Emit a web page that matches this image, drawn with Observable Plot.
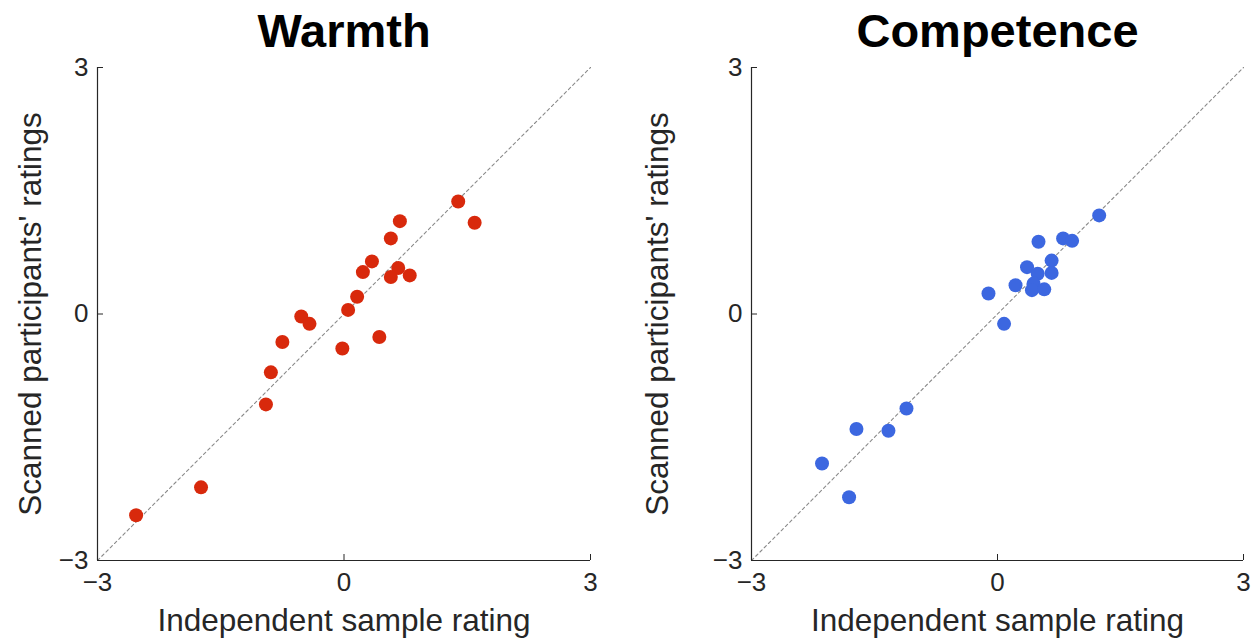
<!DOCTYPE html>
<html>
<head>
<meta charset="utf-8">
<script src="https://cdn.jsdelivr.net/npm/d3@7"></script>
<script src="https://cdn.jsdelivr.net/npm/@observablehq/plot@0.6"></script>
<style>
  html, body { margin: 0; padding: 0; background: #fff; }
  #wrap { position: relative; width: 1255px; height: 641px; }
  #wrap > svg { position: absolute; top: 0; }
</style>
</head>
<body>
<div id="wrap"></div>
<script>
// ---- Data ----
const titles = ["Warmth", "Competence"];
const xLabel = "Independent sample rating";
const yLabel = "Scanned participants' ratings";
const domain = [-3, 3];
const tickValues = [-3, 0, 3];

const warmthX = [1.39, 0.68, 1.59, 0.57, 0.34, 0.23, 0.66, 0.57, 0.80, 0.16, 0.05, -0.52, -0.42, -0.75, -0.02, 0.43, -0.89, -0.95, -1.74, -2.53];
const warmthY = [1.37, 1.13, 1.11, 0.92, 0.64, 0.51, 0.56, 0.45, 0.47, 0.21, 0.05, -0.03, -0.12, -0.34, -0.42, -0.28, -0.71, -1.10, -2.11, -2.45];

const competenceX = [1.24, 0.50, 0.80, 0.91, 0.36, 0.66, 0.66, 0.49, 0.22, 0.44, 0.42, 0.57, -0.11, 0.08, -1.11, -1.72, -1.33, -2.14, -1.81];
const competenceY = [1.20, 0.88, 0.92, 0.89, 0.57, 0.65, 0.50, 0.49, 0.35, 0.37, 0.29, 0.30, 0.25, -0.12, -1.15, -1.40, -1.42, -1.82, -2.23];

const colors = ["#d8290c", "#3c67e0"];

// ---- Drawing ----
const font = "'Liberation Sans', Arial, Helvetica, sans-serif";
const fmt = d => d < 0 ? "\u2212" + Math.abs(d) : String(d);

function panel(title, xs, ys, color, left, width, marginLeft, marginRight) {
  const pts = xs.map((x, i) => ({x, y: ys[i]}));
  const svg = Plot.plot({
    width, height: 641,
    marginLeft, marginRight, marginTop: 67, marginBottom: 81,
    x: {domain, axis: null},
    y: {domain, axis: null},
    style: {fontFamily: font, background: "white", overflow: "visible", color: "#262626"},
    marks: [
      Plot.line(domain.map(v => ({x: v, y: v})), {x: "x", y: "y", stroke: "#8a8a8a", strokeWidth: 1.1, strokeDasharray: "3,3"}),
      Plot.ruleY([domain[0]], {x1: domain[0], x2: domain[1], stroke: "#262626", strokeWidth: 1.2}),
      Plot.ruleX([domain[0]], {y1: domain[0], y2: domain[1], stroke: "#262626", strokeWidth: 1.2}),
      Plot.axisX({ticks: tickValues, tickSize: -6, tickPadding: 18, tickFormat: fmt, fontSize: 26, label: null, stroke: "#262626"}),
      Plot.axisY({ticks: tickValues, tickSize: -6, tickPadding: 15, tickFormat: fmt, fontSize: 26, label: null, stroke: "#262626"}),
      Plot.dot(pts, {x: "x", y: "y", r: 7, fill: color, stroke: "none"}),
      Plot.text([title], {frameAnchor: "top", lineAnchor: "middle", textAnchor: "middle", dy: -36, fontSize: 47, fontWeight: "bold", fill: "#000"}),
      Plot.text([xLabel], {frameAnchor: "bottom", lineAnchor: "middle", textAnchor: "middle", dy: 60, fontSize: 31.5, fill: "#262626"}),
      Plot.text([yLabel], {frameAnchor: "left", lineAnchor: "middle", textAnchor: "middle", dx: -(marginLeft - 30), rotate: -90, fontSize: 31.5, fill: "#262626"})
    ]
  });
  svg.style.left = left + "px";
  return svg;
}

const wrap = document.getElementById("wrap");
wrap.appendChild(panel(titles[0], warmthX, warmthY, colors[0], 0, 627, 97, 37));
wrap.appendChild(panel(titles[1], competenceX, competenceY, colors[1], 627, 628, 124, 12));
</script>
</body>
</html>
